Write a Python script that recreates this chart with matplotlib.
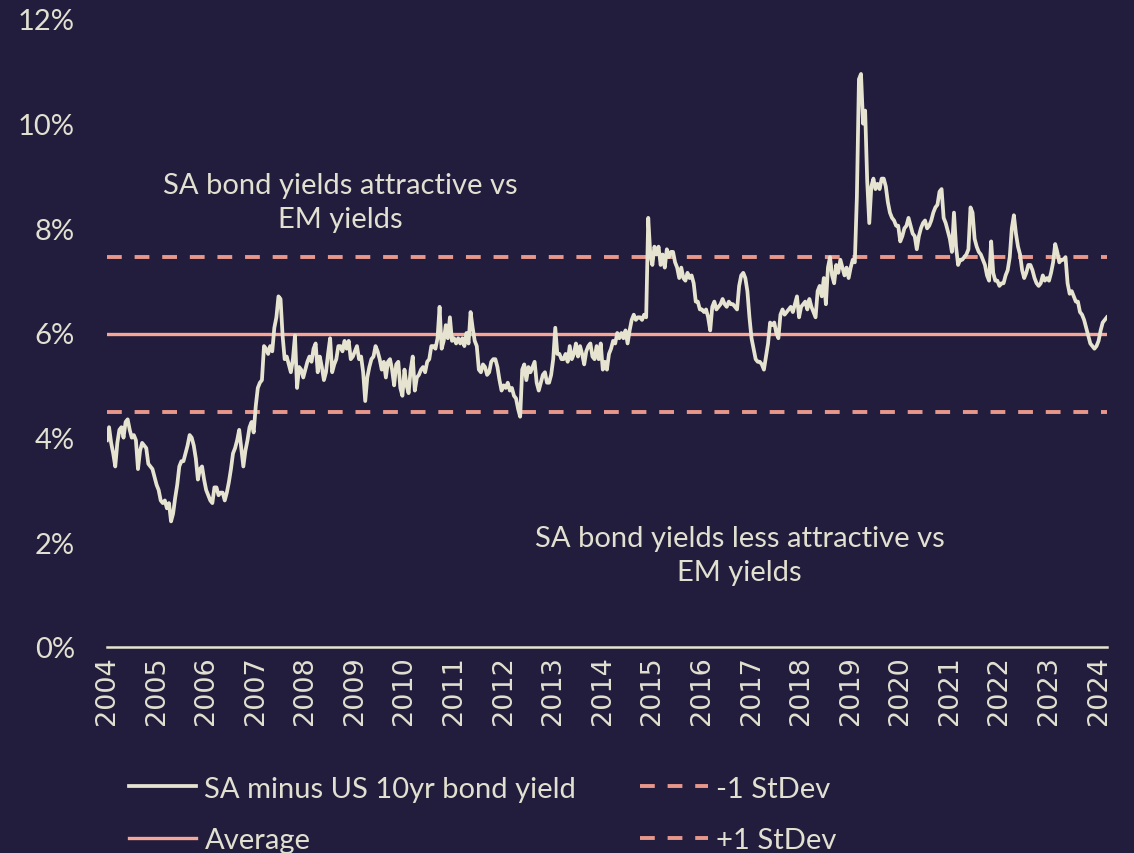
import numpy as np
import matplotlib
matplotlib.use("Agg")
import matplotlib.pyplot as plt

# SA minus US 10yr bond yield spread (%), two readings per month
y2004 = [3.95, 4.2, 3.9, 3.7, 3.45, 3.9, 4.15, 4.2, 4.0, 4.3, 4.35, 4.15,
         4.0, 4.05, 3.95, 3.4, 3.75, 3.9, 3.85, 3.8, 3.5, 3.45, 3.4, 3.25]
y2005 = [3.1, 3.0, 2.8, 2.75, 2.8, 2.65, 2.75, 2.4, 2.55, 2.85, 3.1, 3.45,
         3.55, 3.55, 3.7, 3.85, 4.05, 4.0, 3.85, 3.6, 3.2, 3.4, 3.45, 3.2]
y2006 = [3.0, 2.9, 2.8, 2.75, 3.05, 3.05, 2.9, 2.95, 2.95, 2.8, 2.95, 3.15,
         3.4, 3.7, 3.8, 3.95, 4.15, 3.8, 3.45, 3.75, 3.95, 4.2, 4.3, 4.1]
y2007 = [4.6, 4.95, 5.05, 5.1, 5.75, 5.7, 5.6, 5.75, 5.65, 6.1, 6.3, 6.7,
         6.65, 5.95, 5.5, 5.55, 5.4, 5.25, 5.5, 5.95, 4.95, 5.35, 5.3, 5.15]
y2008 = [5.3, 5.45, 5.55, 5.45, 5.7, 5.8, 5.25, 5.55, 5.35, 5.1, 5.25, 5.6,
         5.9, 5.25, 5.4, 5.5, 5.75, 5.75, 5.65, 5.85, 5.7, 5.85, 5.5, 5.55]
y2009 = [5.65, 5.75, 5.5, 5.55, 5.25, 4.7, 5.15, 5.35, 5.5, 5.55, 5.75, 5.65,
         5.5, 5.3, 5.45, 5.15, 5.45, 5.5, 5.3, 5.0, 5.4, 5.45, 4.95, 4.8]
y2010 = [5.3, 5.0, 4.85, 5.3, 5.55, 4.9, 5.15, 5.2, 5.3, 5.35, 5.25, 5.45,
         5.5, 5.75, 5.75, 5.7, 5.9, 6.5, 5.7, 5.85, 6.15, 5.9, 6.3, 5.85]
y2011 = [5.9, 5.8, 5.9, 5.8, 5.9, 5.75, 6.0, 5.8, 6.4, 6.1, 5.85, 5.75,
         5.3, 5.25, 5.4, 5.35, 5.2, 5.25, 5.45, 5.5, 5.5, 5.35, 5.1, 4.9]
y2012 = [5.0, 4.95, 5.05, 4.9, 4.95, 4.8, 4.75, 4.55, 4.4, 5.3, 5.4, 5.1,
         5.35, 5.25, 5.35, 5.45, 5.05, 4.9, 5.05, 5.2, 5.25, 5.05, 5.05, 5.2]
y2013 = [5.5, 6.1, 5.6, 5.6, 5.5, 5.5, 5.6, 5.45, 5.75, 5.5, 5.6, 5.8,
         5.55, 5.75, 5.6, 5.4, 5.65, 5.75, 5.8, 5.55, 5.5, 5.75, 5.5, 5.8]
y2014 = [5.3, 5.45, 5.3, 5.6, 5.7, 5.85, 5.8, 6.0, 5.9, 6.0, 5.9, 6.05,
         5.8, 6.05, 6.25, 6.35, 6.25, 6.3, 6.3, 6.25, 6.35, 6.3, 8.2, 7.5]
y2015 = [7.3, 7.65, 7.5, 7.65, 7.3, 7.5, 7.25, 7.6, 7.45, 7.55, 7.55, 7.35,
         7.25, 7.05, 7.25, 7.05, 7.0, 7.15, 7.05, 7.1, 6.95, 6.6, 6.6, 6.45]
y2016 = [6.45, 6.4, 6.45, 6.3, 6.05, 6.5, 6.6, 6.45, 6.5, 6.55, 6.65, 6.55,
         6.5, 6.6, 6.55, 6.55, 6.5, 6.45, 6.9, 7.1, 7.15, 7.05, 6.8, 6.3]
y2017 = [5.9, 5.7, 5.5, 5.45, 5.45, 5.4, 5.3, 5.55, 5.8, 6.2, 6.15, 6.2,
         6.0, 5.9, 6.35, 6.45, 6.35, 6.4, 6.45, 6.5, 6.4, 6.55, 6.7, 6.3]
y2018 = [6.5, 6.55, 6.6, 6.45, 6.65, 6.5, 6.4, 6.3, 6.8, 6.9, 6.7, 7.05,
         6.55, 7.25, 7.45, 7.1, 6.95, 7.3, 7.15, 7.4, 7.25, 7.1, 7.25, 7.05]
y2019 = [7.25, 7.4, 7.35, 8.6, 10.85, 10.95, 10.0, 10.25, 8.9, 8.1, 8.8, 8.95,
         8.75, 8.85, 8.75, 8.95, 8.95, 8.8, 8.5, 8.3, 8.2, 8.15, 8.05, 8.05]
y2020 = [7.75, 7.85, 8.0, 8.05, 8.2, 8.05, 7.9, 7.85, 7.6, 7.85, 8.0, 8.1,
         8.15, 8.0, 8.05, 8.15, 8.3, 8.4, 8.45, 8.7, 8.75, 8.2, 8.1, 7.95]
y2021 = [7.8, 7.55, 8.3, 7.65, 7.3, 7.4, 7.4, 7.45, 7.5, 7.6, 8.4, 8.3,
         7.8, 7.65, 7.55, 7.5, 7.4, 7.3, 7.1, 7.0, 7.75, 7.15, 7.0, 7.0]
y2022 = [6.9, 6.95, 6.95, 7.1, 7.2, 7.45, 8.0, 8.25, 7.9, 7.65, 7.5, 7.2,
         7.05, 7.15, 7.3, 7.3, 7.2, 7.05, 6.95, 6.9, 6.95, 7.1, 7.0, 7.05]
y2023 = [7.0, 7.15, 7.35, 7.7, 7.55, 7.35, 7.4, 7.4, 7.45, 6.95, 6.75, 6.8,
         6.7, 6.6, 6.6, 6.4, 6.35, 6.25, 6.1, 5.95, 5.8, 5.75, 5.7, 5.75]
y2024 = [5.85, 6.05, 6.2, 6.25, 6.3]

spread = y2004 + y2005 + y2006 + y2007 + y2008 + y2009 + y2010 + y2011 + y2012 + \
    y2013 + y2014 + y2015 + y2016 + y2017 + y2018 + y2019 + y2020 + y2021 + \
    y2022 + y2023 + y2024
avg = 5.98
sd = 1.48
years = list(range(2004, 2025))

bg = '#221c3d'
cream = '#e6e4d0'
salmon = '#f5a898'
dash_c = '#e8978b'
txt = '#e2e0d0'

t = 2004 + np.arange(len(spread)) / 24.0

fig = plt.figure(figsize=(11.34, 8.54), dpi=100, facecolor=bg)
ax = fig.add_axes([107/1134, 206/854, 1000/1134, 628/854])
ax.set_facecolor(bg)

l1, = ax.plot(t, spread, color=cream, lw=2.7, label='SA minus US 10yr bond yield', zorder=3)
l2 = ax.axhline(avg, color=salmon, lw=2.4, label='Average', zorder=2)
l3 = ax.axhline(avg - sd, color=dash_c, lw=2.8, ls=(0, (3.8, 3.3)), label='-1 StDev', zorder=2)
l4 = ax.axhline(avg + sd, color=dash_c, lw=2.8, ls=(0, (3.8, 3.3)), label='+1 StDev', zorder=2)

ax.set_xlim(2004, 2024.17)
ax.set_ylim(0, 12)
ax.set_yticks(range(0, 13, 2))
ax.set_yticklabels([f'{v}%' for v in range(0, 13, 2)], fontsize=21, color=txt, family='Lato')
ax.set_xticks(years)
ax.set_xticklabels([str(y) for y in years], rotation=90, fontsize=19.5, color=txt, family='DejaVu Sans')
ax.tick_params(axis='y', length=0, pad=23)
ax.tick_params(axis='x', length=0, pad=6)
for s in ['top', 'right', 'left']:
    ax.spines[s].set_visible(False)
ax.spines['bottom'].set_color(cream)
ax.spines['bottom'].set_linewidth(1.8)

ax.text(2008.7, 8.5, 'SA bond yields attractive vs\nEM yields', ha='center', va='center',
        fontsize=21, color=txt, family='Lato', linespacing=1.35)
ax.text(2016.76, 1.76, 'SA bond yields less attractive vs\nEM yields', ha='center', va='center',
        fontsize=21, color=txt, family='Lato', linespacing=1.35)

leg = fig.legend(handles=[l1, l2, l3, l4], ncol=2, loc='upper left',
                 bbox_to_anchor=(114/1134, 1 - 762/854), frameon=False,
                 prop={'family': 'Lato', 'size': 21}, labelcolor=txt,
                 handlelength=2.3, handletextpad=0.3, columnspacing=2.2,
                 labelspacing=0.87, borderpad=0)

fig.savefig('out.png', dpi=100, facecolor=bg)
